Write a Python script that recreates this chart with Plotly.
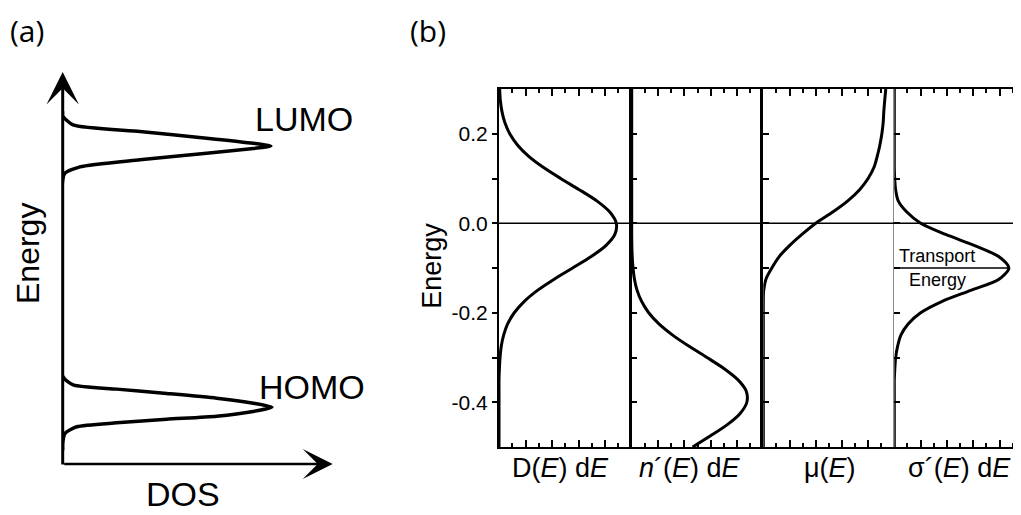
import plotly.graph_objects as go

# ---------------- data ----------------
# (a) schematic DOS (arbitrary units)
a_dos = [0, 0, 0.085, 0.52, 2.0, 3.85, 5.70, 7.05, 7.75, 7.06, 5.70, 3.85, 2.0, 0.39, 0,
         0, 0.085, 0.64, 2.86, 5.33, 7.06, 7.71, 7.06, 5.33, 2.86, 0.38, 0, 0]
a_energy = [0.35, 0.53, 0.78, 0.95, 1.05, 1.14, 1.22, 1.34, 1.45, 1.55, 1.68, 1.80, 1.91, 2.02, 2.24,
            7.24, 7.42, 7.58, 7.76, 7.93, 8.05, 8.11, 8.18, 8.31, 8.48, 8.65, 8.88, 9.0]

# (b) energy grid (eV)
energy = [0.3, 0.275, 0.25, 0.225, 0.2, 0.175, 0.15, 0.125, 0.1, 0.075, 0.05, 0.025, 0.0,
          -0.025, -0.05, -0.075, -0.1, -0.125, -0.15, -0.175, -0.2, -0.225, -0.25, -0.275,
          -0.3, -0.325, -0.35, -0.375, -0.4, -0.425, -0.45, -0.475, -0.5]
dos_b = [0.05, 0.10, 0.22, 0.44, 0.81, 1.39, 2.22, 3.33, 4.65, 6.05, 7.37, 8.35, 8.84,
         8.73, 8.05, 6.92, 5.55, 4.16, 2.90, 1.89, 1.15, 0.65, 0.35, 0.17,
         0.08, 0.03, 0.0, 0.0, 0.0, 0.0, 0.0, 0.0, 0.0]
n_occ = [0, 0, 0, 0, 0, 0, 0, 0, 0, 0, 0, 0, 0,
         0.0, 0.01, 0.04, 0.10, 0.21, 0.41, 0.76, 1.29, 2.07, 3.11, 4.36,
         5.72, 7.03, 8.08, 8.70, 8.75, 8.24, 7.27, 5.99, 4.63]
mobility = [9.35, 9.27, 9.2, 9.15, 9.05, 8.9, 8.7, 8.45, 8.0, 7.35, 6.45, 5.3, 4.0,
            2.95, 2.0, 1.2, 0.65, 0.2, 0.03, 0, 0, 0, 0, 0,
            0, 0, 0, 0, 0, 0, 0, 0, 0]
sigma = [0, 0, 0, 0, 0, 0, 0, 0, 0.03, 0.1, 0.3, 0.95, 2.0,
         3.9, 6.1, 7.95, 8.7, 7.95, 5.8, 3.6, 2.0, 1.05, 0.5, 0.25,
         0.1, 0.04, 0, 0, 0, 0, 0, 0, 0]
transport_energy = -0.1

ytick_vals = [-0.4, -0.2, 0.0, 0.2]
ytick_text = ["-0.4", "-0.2", "0.0", "0.2"]
panel_titles = ["D(<i>E</i>) d<i>E</i>", "<i>n</i>´(<i>E</i>) d<i>E</i>",
                "μ(<i>E</i>)", "σ´(<i>E</i>) d<i>E</i>"]

FONT = "Liberation Sans, Arial, sans-serif"

fig = go.Figure()

# ---------------- panel (a) ----------------
fig.add_trace(go.Scatter(x=a_dos, y=a_energy, mode="lines", xaxis="x", yaxis="y",
                         line=dict(color="black", width=3.5, shape="spline", smoothing=0.6),
                         cliponaxis=False, showlegend=False, hoverinfo="skip"))

# ---------------- panel (b) ----------------
curves = [dos_b, n_occ, mobility, sigma]
for i, c in enumerate(curves):
    k = i + 2
    fig.add_trace(go.Scatter(x=c, y=energy, mode="lines", xaxis=f"x{k}", yaxis=f"y{k}",
                             line=dict(color="black", width=3, shape="spline", smoothing=0.8),
                             cliponaxis=False, showlegend=False, hoverinfo="skip"))

W, H = 1021, 515
OFF = 8  # page body margin
def px_x(p): return (p - OFF) / W
def px_y(p): return (H - (p - OFF)) / H

layout = dict(
    width=W, height=H, margin=dict(l=0, r=0, t=0, b=0),
    paper_bgcolor="white", plot_bgcolor="rgba(0,0,0,0)",
    font=dict(family=FONT, color="black"),
    xaxis=dict(domain=[px_x(62.7), px_x(332.7)], range=[0, 10], visible=False),
    yaxis=dict(domain=[px_y(464), px_y(72)], range=[0, 10], visible=False, anchor="x"),
)

edges = [499, 631.7, 763.3, 894.3, 1026]
ydom = [px_y(447), px_y(89)]
for i in range(4):
    k = i + 2
    x0, x1 = edges[i], edges[i + 1]
    layout[f"xaxis{k}"] = dict(
        domain=[px_x(x0), min(1.0, px_x(x1))], range=[0, 10], anchor=f"y{k}",
        showline=True, linecolor="black", linewidth=2, mirror="ticks",
        ticks="inside", tickvals=[0, 2, 4, 6, 8, 10], ticklen=7, tickwidth=1.6,
        tickcolor="black", showticklabels=False, showgrid=False, zeroline=False,
        minor=dict(tickvals=[1, 3, 5, 7, 9], ticks="inside", ticklen=4, tickwidth=1.6,
                   tickcolor="black", showgrid=False),
    )
    ya = dict(
        domain=ydom, range=[-0.5, 0.3], anchor=f"x{k}",
        showline=True, linecolor="black", linewidth=2.5,
        ticks="inside", tickvals=ytick_vals, ticklen=6, tickwidth=1.6, tickcolor="black",
        showticklabels=False, showgrid=False, zeroline=False,
        minor=dict(tickvals=[-0.3, -0.1, 0.1], ticks="inside", ticklen=6, tickwidth=1.6,
                   tickcolor="black", showgrid=False),
    )
    if i == 0:
        ya.update(ticks="outside", ticklen=5, showticklabels=True, ticktext=ytick_text,
                  tickfont=dict(size=21, family=FONT, color="black"), linewidth=2)
        ya["minor"]["ticks"] = "outside"
        ya["minor"]["ticklen"] = 5
    if i == 3:
        ya.update(linecolor="#8a8a8a", linewidth=1, mirror="ticks")
    layout[f"yaxis{k}"] = ya

fig.update_layout(**layout)

# horizontal line at E = 0 across panel (b)
fig.add_shape(type="line", xref="paper", yref="y2", x0=px_x(499), x1=1.0, y0=0, y1=0,
              line=dict(color="black", width=1.6), layer="above")
# transport energy line
fig.add_shape(type="line", xref="x5", yref="y5", x0=0, x1=max(sigma),
              y0=transport_energy, y1=transport_energy,
              line=dict(color="black", width=1.4), layer="above")

ann = []
# axis arrows for (a)
ann.append(dict(x=0, y=10, ax=0, ay=-0.05, xref="x", yref="y", axref="x", ayref="y",
                showarrow=True, arrowhead=3, arrowwidth=3, arrowsize=1.8, arrowcolor="black",
                text=""))
ann.append(dict(x=10, y=0, ax=0, ay=0, xref="x", yref="y", axref="x", ayref="y",
                showarrow=True, arrowhead=3, arrowwidth=2.5, arrowsize=2.0, arrowcolor="black",
                text=""))

def label(text, x, y, size, angle=0, xanchor="center", yanchor="middle", family=FONT):
    ann.append(dict(text=text, x=x, y=y, xref="paper", yref="paper", showarrow=False,
                    xanchor=xanchor, yanchor=yanchor, textangle=angle,
                    font=dict(size=size, family=family, color="black")))

label("(a)", 0.0, 1.0, 30, xanchor="left", yanchor="top", family="Open Sans, sans-serif")
label("(b)", px_x(428), 1.0, 30, yanchor="top", family="Open Sans, sans-serif")
label("LUMO", px_x(304), px_y(119), 34)
label("HOMO", px_x(311.7), px_y(386.5), 34)
label("Energy", 0.0, px_y(254), 32, angle=-90, xanchor="left")
label("DOS", px_x(183), px_y(494), 34)
label("Energy", px_x(431.7), px_y(266), 27, angle=-90)
centers = [560, 690, 830, 959]
for t, cx in zip(panel_titles, centers):
    label(t, px_x(cx), px_y(468), 27)
label("Transport", px_x(897), px_y(256), 18, xanchor="left")
label("Energy", px_x(907), px_y(280), 18, xanchor="left")

fig.update_layout(annotations=ann)
fig.write_html("out.html")
